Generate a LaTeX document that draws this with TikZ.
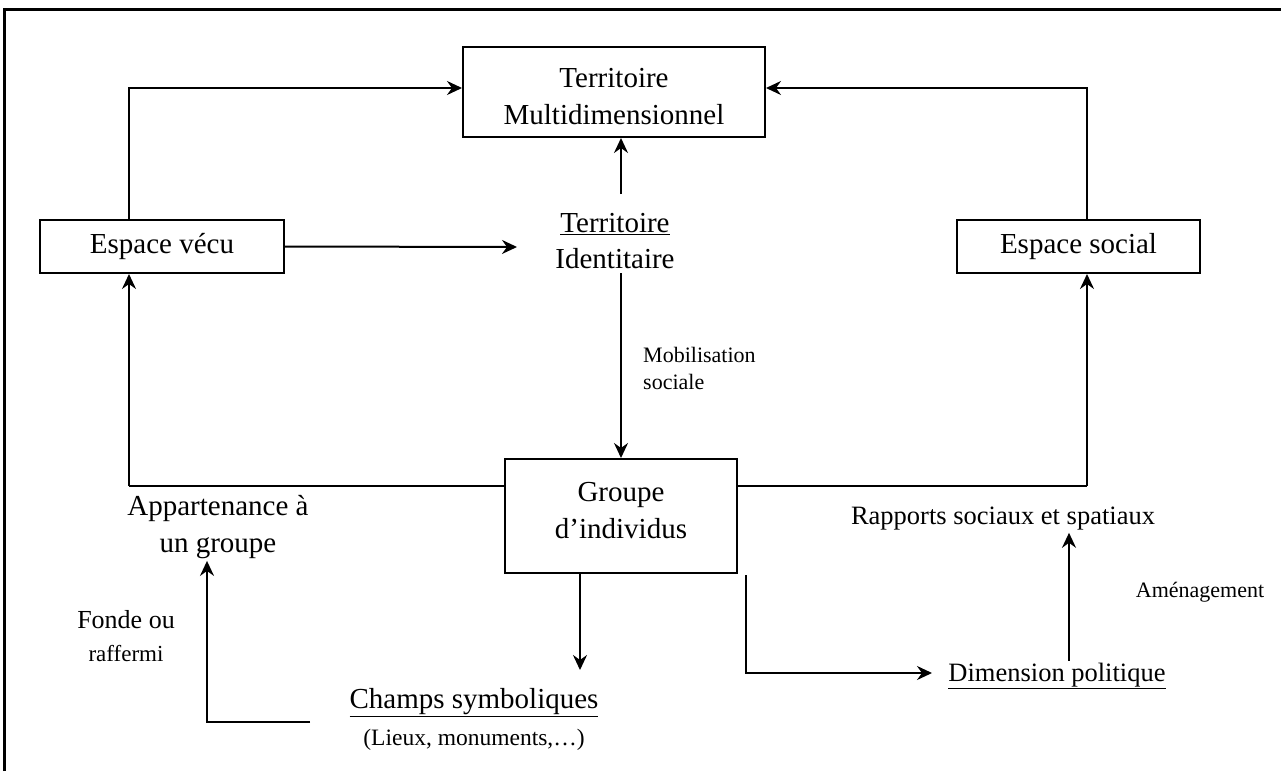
\documentclass[tikz,border=0pt]{standalone}
\usepackage{fontspec}
\setmainfont{Liberation Serif}
\usetikzlibrary{arrows.meta,calc}
\begin{document}
\begin{tikzpicture}[x=1pt,y=-1pt,
  box/.style={draw,line width=2pt,align=center,inner sep=0pt},
  lbl/.style={align=center,inner sep=2pt},
  big/.style={font=\fontsize{29}{37}\selectfont},
  mid/.style={font=\fontsize{26.5}{32}\selectfont},
  small/.style={font=\fontsize{22}{27}\selectfont},
  link/.style={line width=2pt},
  arr/.style={link,-{Stealth[length=15pt,width=14pt,inset=5pt]}}
]
\useasboundingbox (0,0) rectangle (1281,771);
% frame
\draw[line width=3pt] (4,771) -- (4,9) -- (1281,9);

% boxes
\node[box,minimum width=302,minimum height=90] (tm) at (614,92) {};
\node[lbl,big] (tmt) at ([yshift=-5pt]tm.center) {Territoire\\Multidimensionnel};
\node[box,big,minimum width=244,minimum height=53] (ev) at (162,246.5) {Espace vécu};
\node[box,big,minimum width=243,minimum height=53] (es) at (1078.5,246.5) {Espace social};
\node[box,minimum width=232,minimum height=114] (gi) at (621,516) {};
\node[lbl,big] (git) at ([yshift=5pt]gi.center) {Groupe\\d’individus};

% free labels
\node[lbl,big,font=\fontsize{29}{36}\selectfont] (ti) at (615,241) {\underline{Territoire}\\Identitaire};
\node[lbl,small,align=left,anchor=west] (mob) at (641,368) {Mobilisation\\sociale};
\node[lbl,big] (ap) at (218,527) {Appartenance à\\un groupe};
\node[lbl,font=\fontsize{26}{33}\selectfont] (fo) at (126,636) {Fonde ou\\{\fontsize{23}{27}\selectfont raffermi}};
\node[lbl,big] (cs) at (474,703) {\underline{Champs symboliques}};
\node[lbl,font=\fontsize{23.5}{27}\selectfont] (li) at (474,740) {(Lieux, monuments,…)};
\node[lbl,mid] (rs) at (1003,519) {Rapports sociaux et spatiaux};
\node[lbl,mid] (dp) at (1057,676) {\underline{Dimension politique}};
\node[lbl,small] (am) at (1200,592) {Aménagement};

% routing points
\coordinate (cL) at (129,88);
\coordinate (cR) at (1087,88);
\coordinate (gL) at (129,486);
\coordinate (gR) at (1087,486);
\coordinate (tiL) at (517,247);
\coordinate (tiT) at (621,194);
\coordinate (tiB) at (621,273);
\coordinate (csA) at (580,670);
\coordinate (dpS) at (746,575);
\coordinate (dpE) at (932,673);
\coordinate (amA) at ([xshift=12pt]dp.north);
\coordinate (fS) at (310,722);
\coordinate (fC) at (207,722);

% connectors
\draw[arr] (ev.north -| cL) -- (cL) -- (tm.west |- cL);
\draw[arr] (es.north -| cR) -- (cR) -- (tm.east |- cR);
\draw[arr] (ev.east) -- (tiL);
\draw[arr] (tiT) -- (tm.south -| tiT);
\draw[arr] (tiB) -- (gi.north -| tiB);
\draw[link] (gi.west |- gL) -- (gL);
\draw[arr] (gL) -- (ev.south -| gL);
\draw[link] (gi.east |- gR) -- (gR);
\draw[arr] (gR) -- (es.south -| gR);
\draw[arr] (gi.south -| csA) -- (csA);
\draw[arr] (dpS) |- (dpE);
\draw[arr] (amA) -- (rs.south -| amA);
\draw[arr] (fS) -- (fC) -- (ap.south -| fC);
\end{tikzpicture}
\end{document}
